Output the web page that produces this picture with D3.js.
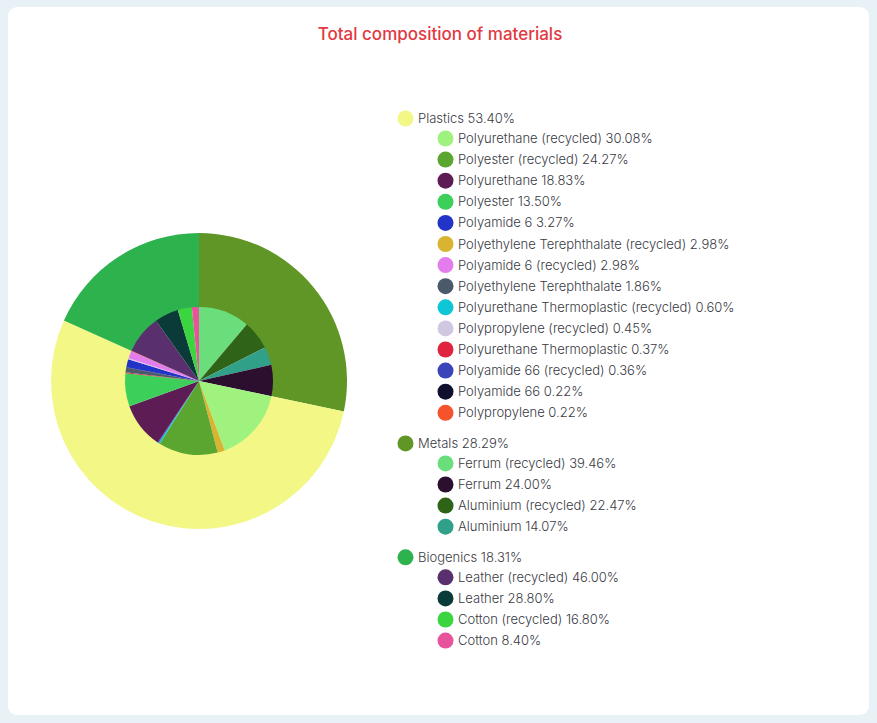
<!DOCTYPE html>
<html>
<head>
<meta charset="utf-8">
<script src="https://cdn.jsdelivr.net/npm/d3@7"></script>
<style>
  html, body { margin: 0; padding: 0; background: #e8f1f5; }
  body { width: 877px; height: 723px; overflow: hidden; }
  #card { position: absolute; left: 8px; top: 7px; width: 861px; height: 708px; background: #fff; border-radius: 9px; }
  svg { position: absolute; left: 0; top: 0; }
</style>
</head>
<body>
<div id="card"></div>
<svg id="chart" width="877" height="723"></svg>
<script>
// groups (outer ring), in drawing order
const groupNames = ["Metals", "Plastics", "Biogenics"]
const groupShares = [28.29, 53.40, 18.31]
const groupColors = ["#5f9626", "#f2f786", "#2db24e"]

// legend order of groups
const legendGroups = ["Plastics", "Metals", "Biogenics"]

// materials: name, group, share inside group (%), colour
const materialNames = [
  "Polyurethane (recycled)", "Polyester (recycled)", "Polyurethane", "Polyester",
  "Polyamide 6", "Polyethylene Terephthalate (recycled)", "Polyamide 6 (recycled)",
  "Polyethylene Terephthalate", "Polyurethane Thermoplastic (recycled)",
  "Polypropylene (recycled)", "Polyurethane Thermoplastic", "Polyamide 66 (recycled)",
  "Polyamide 66", "Polypropylene",
  "Ferrum (recycled)", "Ferrum", "Aluminium (recycled)", "Aluminium",
  "Leather (recycled)", "Leather", "Cotton (recycled)", "Cotton"
]
const materialGroups = [
  "Plastics", "Plastics", "Plastics", "Plastics", "Plastics", "Plastics", "Plastics",
  "Plastics", "Plastics", "Plastics", "Plastics", "Plastics", "Plastics", "Plastics",
  "Metals", "Metals", "Metals", "Metals",
  "Biogenics", "Biogenics", "Biogenics", "Biogenics"
]
const materialShares = [
  30.08, 24.27, 18.83, 13.50, 3.27, 2.98, 2.98, 1.86, 0.60, 0.45, 0.37, 0.36, 0.22, 0.22,
  39.46, 24.00, 22.47, 14.07,
  46.00, 28.80, 16.80, 8.40
]
const materialColors = [
  "#a0f27e", "#5aa630", "#5e1c55", "#3ccf5a", "#2233c8", "#d8b430", "#e37ded",
  "#4a5a6a", "#0fc6d6", "#d0c8e0", "#e0243f", "#3b44b8", "#10102e", "#f5532b",
  "#6ade7a", "#2c0f2f", "#2f6418", "#30a088",
  "#5a2f6e", "#0a3b38", "#3bd540", "#e8549c"
]

// order of slices in the inner pie (by material name)
const innerOrder = [
  "Ferrum (recycled)", "Aluminium (recycled)", "Aluminium", "Ferrum",
  "Polyurethane (recycled)", "Polyethylene Terephthalate (recycled)", "Polyester (recycled)",
  "Polyurethane Thermoplastic (recycled)", "Polyamide 66 (recycled)", "Polyurethane",
  "Polyester", "Polyurethane Thermoplastic", "Polyethylene Terephthalate", "Polyamide 66",
  "Polyamide 6", "Polypropylene (recycled)", "Polyamide 6 (recycled)", "Polypropylene",
  "Leather (recycled)", "Leather", "Cotton (recycled)", "Cotton"
]

const svg = d3.select("#chart")
const cx = 199, cy = 381, rInner = 74, rOuter = 148

svg.append("text")
  .attr("x", 440).attr("y", 40)
  .attr("text-anchor", "middle")
  .attr("font-family", "Inter, sans-serif")
  .attr("font-size", 17).attr("font-weight", 500)
  .attr("fill", "#e2383f")
  .text("Total composition of materials")

const gPie = svg.append("g").attr("transform", `translate(${cx},${cy})`)

// outer ring
const outerPie = d3.pie().sort(null).value(d => d.v)
const outerData = groupNames.map((n, i) => ({ n, v: groupShares[i], c: groupColors[i] }))
gPie.selectAll("path.outer")
  .data(outerPie(outerData))
  .enter().append("path")
  .attr("class", "outer")
  .attr("d", d3.arc().innerRadius(rInner - 1).outerRadius(rOuter))
  .attr("fill", d => d.data.c)

// inner pie: absolute share = group share * share inside group
const innerData = innerOrder.map(n => {
  const i = materialNames.indexOf(n)
  const gs = groupShares[groupNames.indexOf(materialGroups[i])]
  return { n, v: gs * materialShares[i] / 100, c: materialColors[i] }
})
gPie.selectAll("path.inner")
  .data(outerPie(innerData))
  .enter().append("path")
  .attr("class", "inner")
  .attr("d", d3.arc().innerRadius(0).outerRadius(rInner))
  .attr("fill", d => d.data.c)

// legend
const legend = svg.append("g")
  .attr("font-family", "Inter, sans-serif")
  .attr("font-size", 13).attr("font-weight", 300)
  .attr("fill", "#3a3a44")

let y = 118.5
legendGroups.forEach(g => {
  const gi = groupNames.indexOf(g)
  legend.append("circle").attr("cx", 405.5).attr("cy", y).attr("r", 8).attr("fill", groupColors[gi])
  legend.append("text").attr("x", 418).attr("y", y).attr("dy", "0.35em")
    .text(`${g} ${groupShares[gi].toFixed(2)}%`)
  y += 20
  materialNames.forEach((m, i) => {
    if (materialGroups[i] !== g) return
    legend.append("circle").attr("cx", 445.5).attr("cy", y).attr("r", 8).attr("fill", materialColors[i])
    legend.append("text").attr("x", 458).attr("y", y).attr("dy", "0.35em")
      .text(`${m} ${materialShares[i].toFixed(2)}%`)
    y += 21.1
  })
  y += 9.5
})
</script>
</body>
</html>
